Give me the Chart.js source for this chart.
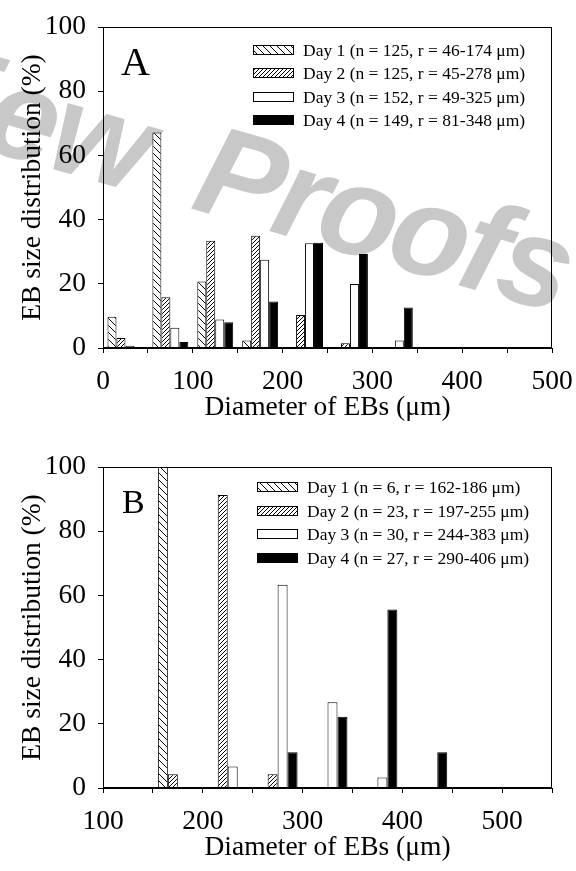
<!DOCTYPE html>
<html>
<head>
<meta charset="utf-8">
<script src="https://cdn.jsdelivr.net/npm/chart.js@4.4.0/dist/chart.umd.min.js"></script>
<style>
  body { margin: 0; background: #fff; }
  canvas { display: block; }
</style>
</head>
<body>
<canvas id="chartA" width="576" height="440"></canvas>
<canvas id="chartB" width="576" height="431"></canvas>
<script>
// panel A: bins of 50 um from 0 to 500
const binsA = ['0-50', '50-100', '100-150', '150-200', '200-250', '250-300', '300-350', '350-400', '400-450', '450-500'];
const day1A = [9.7, 67.1, 20.7, 2.3, 0, 0, 0, 0, 0, 0];
const day2A = [3.1, 15.8, 33.4, 35.0, 10.3, 1.5, 0, 0, 0, 0];
const day3A = [0.7, 6.3, 8.9, 27.5, 32.6, 19.9, 2.3, 0, 0, 0];
const day4A = [0, 1.9, 8.0, 14.5, 32.8, 29.3, 12.6, 0, 0, 0];
const legendA = [
  'Day 1 (n = 125, r = 46-174 μm)',
  'Day 2 (n = 125, r = 45-278 μm)',
  'Day 3 (n = 152, r = 49-325 μm)',
  'Day 4 (n = 149, r = 81-348 μm)'
];

// panel B: bins of 50 um from 100 to 550
const binsB = ['100-150', '150-200', '200-250', '250-300', '300-350', '350-400', '400-450', '450-500', '500-550'];
const day1B = [0, 100, 0, 0, 0, 0, 0, 0, 0];
const day2B = [0, 4.3, 91.3, 4.3, 0, 0, 0, 0, 0];
const day3B = [0, 0, 6.7, 63.3, 26.7, 3.3, 0, 0, 0];
const day4B = [0, 0, 0, 11.1, 22.2, 55.6, 11.1, 0, 0];
const legendB = [
  'Day 1 (n = 6, r = 162-186 μm)',
  'Day 2 (n = 23, r = 197-255 μm)',
  'Day 3 (n = 30, r = 244-383 μm)',
  'Day 4 (n = 27, r = 290-406 μm)'
];

const yTicks = [0, 20, 40, 60, 80, 100];

const serif = '"Liberation Serif", "Times New Roman", serif';
const axisFont = { family: serif, size: 27.5 };

function hatch(size, dir) {
  const c = document.createElement('canvas');
  c.width = size; c.height = size;
  const g = c.getContext('2d');
  g.fillStyle = '#fff';
  g.fillRect(0, 0, size, size);
  g.strokeStyle = '#000';
  g.lineWidth = 1;
  g.beginPath();
  if (dir === 'back') {
    g.moveTo(0, 0); g.lineTo(size, size);
    g.moveTo(-2, size - 2); g.lineTo(2, size + 2);
    g.moveTo(size - 2, -2); g.lineTo(size + 2, 2);
  } else {
    g.moveTo(0, size); g.lineTo(size, 0);
    g.moveTo(-2, 2); g.lineTo(2, -2);
    g.moveTo(size - 2, size + 2); g.lineTo(size + 2, size - 2);
  }
  g.stroke();
  return g.createPattern(c, 'repeat');
}

const fills = [hatch(7, 'back'), hatch(4, 'fwd'), '#fff', '#000'];

// box around the plot area
const framePlugin = {
  id: 'frame',
  afterDraw(chart) {
    const { ctx, chartArea: a } = chart;
    ctx.save();
    ctx.strokeStyle = '#000';
    ctx.lineWidth = 1;
    const l = Math.round(a.left) + 0.5, t = Math.round(a.top) + 0.5;
    const r = Math.round(a.right) - 0.5, b = Math.round(a.bottom) - 0.5;
    ctx.strokeRect(l, t, r - l, b - t);
    ctx.restore();
  }
};

// legend inside the plot + panel letter
const panelPlugin = {
  id: 'panel',
  afterDraw(chart, args, opts) {
    const { ctx } = chart;
    ctx.save();
    ctx.fillStyle = '#000';
    ctx.font = opts.letterSize + 'px ' + serif;
    ctx.textBaseline = 'alphabetic';
    ctx.fillText(opts.letter, opts.letterX, opts.letterY);
    ctx.font = '17.5px ' + serif;
    ctx.textBaseline = 'middle';
    chart.data.datasets.forEach((ds, i) => {
      const y = Math.round(opts.legendY + i * opts.gap);
      ctx.fillStyle = ds.backgroundColor;
      ctx.fillRect(opts.legendX, y - 4.5, 40, 9);
      ctx.strokeStyle = '#000';
      ctx.lineWidth = 1;
      ctx.strokeRect(opts.legendX + 0.5, y - 4.5, 40, 9);
      ctx.fillStyle = '#000';
      ctx.fillText(ds.label, opts.legendX + 50, y + 1);
    });
    ctx.restore();
  }
};

// grey "Review Proofs" stamp behind panel A
const stampPlugin = {
  id: 'stamp',
  beforeDraw(chart) {
    const { ctx } = chart;
    ctx.save();
    ctx.translate(189, 208);
    ctx.rotate(16 * Math.PI / 180);
    ctx.font = 'italic bold 128px "Liberation Sans", Arial, sans-serif';
    ctx.letterSpacing = '-4px';
    ctx.fillStyle = '#c8c8c8';
    ctx.textBaseline = 'alphabetic';
    ctx.textAlign = 'right';
    ctx.fillText('Review', -56, 0);
    ctx.textAlign = 'left';
    ctx.fillText('Proofs', 0, 0);
    ctx.restore();
  }
};

function buildChart(id, cfg) {
  return new Chart(id, {
    type: 'bar',
    data: {
      labels: cfg.bins,
      datasets: cfg.series.map((vals, i) => ({
        label: cfg.legend[i],
        data: vals,
        xAxisID: 'x',
        yAxisID: 'y',
        backgroundColor: fills[i],
        borderColor: '#000',
        borderWidth: 1,
        categoryPercentage: 0.8,
        barPercentage: 1.0
      }))
    },
    options: {
      responsive: false,
      animation: false,
      events: [],
      layout: { padding: { top: 27, right: 24, left: 0, bottom: 0 } },
      plugins: {
        legend: { display: false },
        tooltip: { enabled: false },
        panel: cfg.panel
      },
      scales: {
        x: { type: 'category', display: false, offset: true },
        xTicks: {
          type: 'linear',
          axis: 'x',
          position: 'bottom',
          offset: false,
          min: cfg.xMin,
          max: cfg.xMax,
          ticks: {
            stepSize: 50,
            autoSkip: false,
            maxRotation: 0,
            padding: 12,
            color: '#000',
            font: axisFont,
            callback: v => (v % 100 === 0 && v <= 500 ? String(v) : '')
          },
          grid: { drawOnChartArea: false, offset: false, tickLength: 5, color: '#000' },
          border: { color: '#000' },
          title: {
            display: true,
            text: 'Diameter of EBs (μm)',
            color: '#000',
            font: axisFont,
            padding: { top: 0, bottom: cfg.titlePad }
          },
          afterFit: s => {
            s.height = cfg.height - 348;
            s.paddingLeft = 0;
            s.paddingRight = 0;
          }
        },
        y: {
          min: 0,
          max: 100,
          afterBuildTicks: s => { s.ticks = yTicks.map(v => ({ value: v })); },
          ticks: { padding: 12, color: '#000', font: axisFont },
          grid: { drawOnChartArea: false, tickLength: 5, color: '#000' },
          border: { color: '#000' },
          title: {
            display: true,
            text: 'EB size distribution (%)',
            color: '#000',
            font: axisFont,
            padding: { top: 16, bottom: 0 }
          },
          afterFit: s => {
            s.width = 103;
            s.paddingTop = 0;
            s.paddingBottom = 0;
          }
        }
      }
    },
    plugins: cfg.extra.concat([framePlugin, panelPlugin])
  });
}

buildChart('chartA', {
  bins: binsA,
  series: [day1A, day2A, day3A, day4A],
  legend: legendA,
  xMin: 0,
  xMax: 500,
  height: 440,
  titlePad: 15.5,
  extra: [stampPlugin],
  panel: { letter: 'A', letterSize: 40, letterX: 121, letterY: 75, legendX: 253, legendY: 49.5, gap: 23.5 }
});

buildChart('chartB', {
  bins: binsB,
  series: [day1B, day2B, day3B, day4B],
  legend: legendB,
  xMin: 100,
  xMax: 550,
  height: 431,
  titlePad: 6.5,
  extra: [],
  panel: { letter: 'B', letterSize: 34, letterX: 122, letterY: 73, legendX: 257, legendY: 47, gap: 23.7 }
});
</script>
</body>
</html>
